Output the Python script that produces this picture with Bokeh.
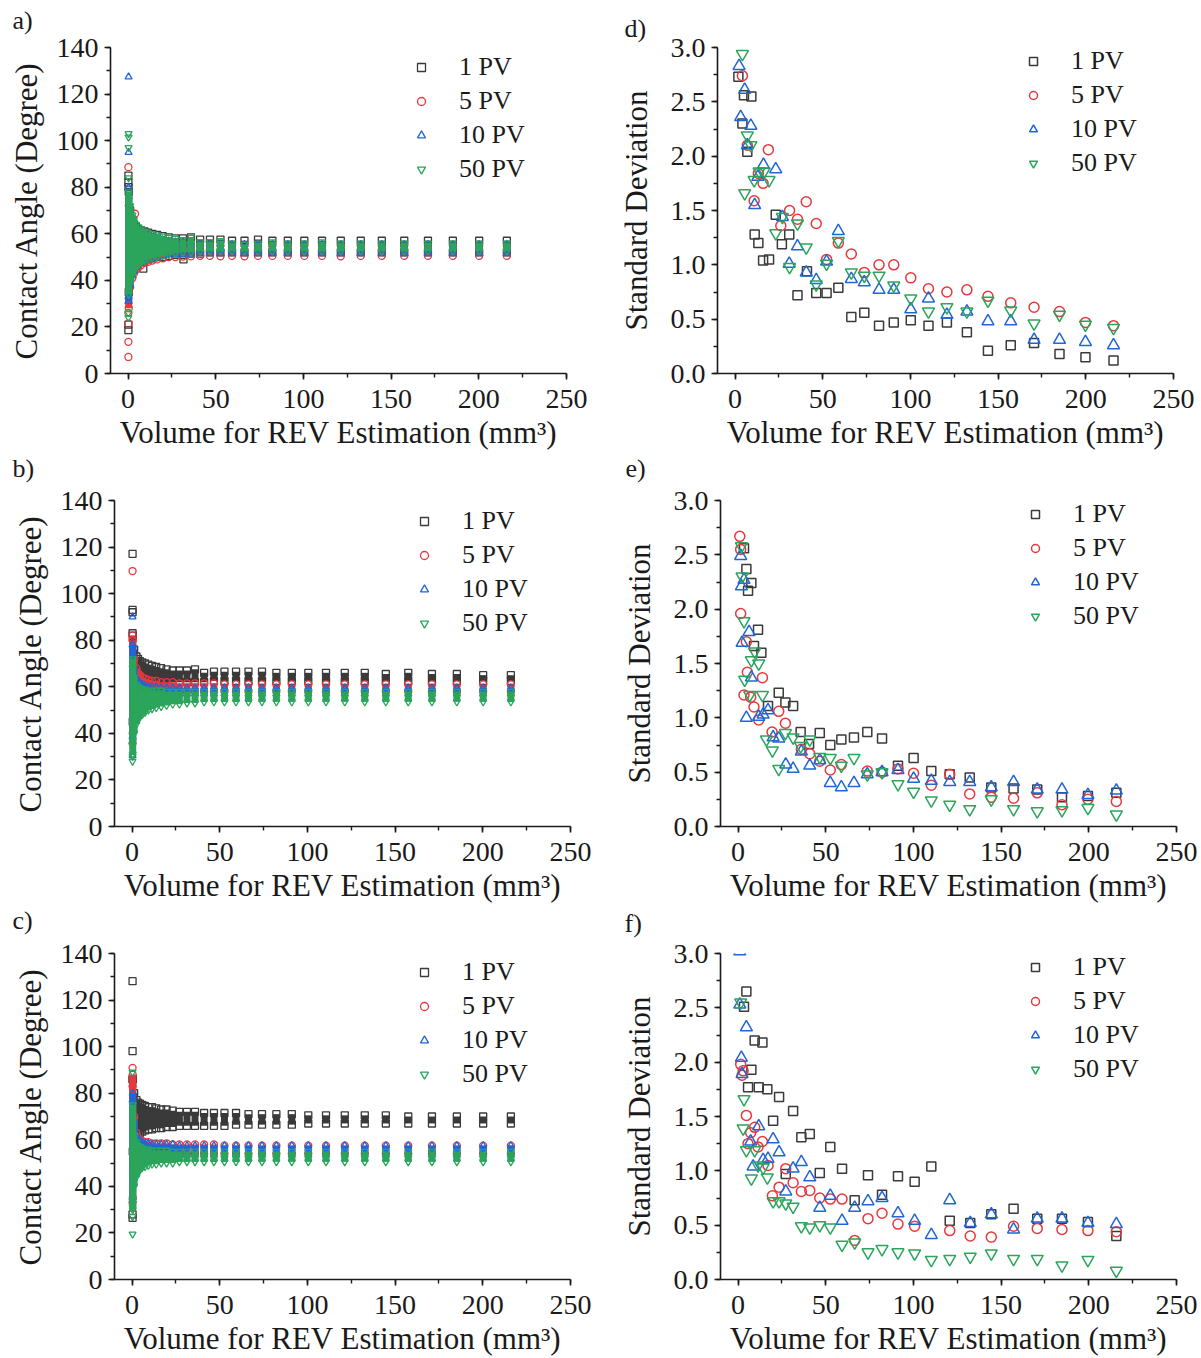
from bokeh.plotting import figure
from bokeh.layouts import column, row
from bokeh.models import (Range1d, SingleIntervalTicker, Legend, LegendItem,
                          PrintfTickFormatter)
from bokeh.embed import file_html
from bokeh.resources import INLINE

FONT = "Liberation Serif"
SERIES = ["1 PV", "5 PV", "10 PV", "50 PV"]
COLORS = ["#3a3a3a", "#e8383d", "#2166d6", "#2ba55b"]
MARKERS = ["square", "circle", "triangle", "inverted_triangle"]
X_TITLE = "Volume for REV Estimation (mm³)"

# ---------------- left column: contact angle envelopes per sub-volume ----------------
volumes = [0.4, 1.2, 2.5, 3.4, 4.5, 5.8, 7.4, 9.3, 11.4, 13.8, 16.6, 19.7, 23.2, 27.0,
           31.3, 35.9, 41.1, 46.7, 52.7, 59.3, 66.4, 74.1, 82.3, 91.1, 100.5, 110.6,
           121.3, 132.7, 144.7, 157.5, 171.0, 185.2, 200.2, 216.0]

# panel a
a_lo_1pv = [35, 41, 44, 45.5, 46.5, 47.5, 48, 48.5, 49, 49.5, 50, 50, 50.5, 51, 51, 51.5, 51.5,
            52, 52, 52, 52, 52, 52, 52, 52, 52, 52, 52, 52, 52, 52, 52, 52, 52]
a_hi_1pv = [78, 70, 66, 64, 63, 62, 61.5, 61, 60.5, 60, 59.5, 59, 58.5, 58, 58, 58.5, 57.5,
            57.5, 57.5, 57, 57, 57.5, 57, 57, 57, 57, 57, 57, 57, 57, 57, 57, 57, 57]
a_lo_5pv = [28, 37, 41, 43, 44.5, 45.5, 46.5, 47.5, 48, 48.5, 49, 49.5, 50, 50, 50.2, 50.3, 50.5,
            50.5, 50.3, 50.5, 50.3, 50.5, 50.5, 50.5, 50.5, 50.5, 50.3, 50.5, 50.5, 50.5, 50.5, 50.5, 50.5, 50.5]
a_hi_5pv = [72, 66, 62, 60, 59, 58, 57.5, 57, 56.5, 56, 55.5, 55.5, 55, 55, 55, 55, 55,
            55, 55, 55, 55, 55, 55, 55, 55, 55, 55, 55, 55, 55, 55, 55, 55, 55]
a_lo_10pv = [31, 38, 42, 44, 45.5, 46.5, 47.5, 48.5, 49, 49.5, 50, 50.5, 51, 51, 51.2, 51.3, 51.5,
             51.5, 51.5, 51.5, 51.5, 51.5, 51.5, 51.5, 51.5, 51.5, 51.5, 51.5, 51.5, 51.5, 51.5, 51.5, 51.5, 51.5]
a_hi_10pv = [76, 70, 66, 64, 62.5, 61.5, 60.5, 59.5, 59, 58.5, 58, 57.5, 57, 56.5, 56.5, 56, 55.5,
             55.5, 55.5, 55.5, 55.5, 55.5, 55.5, 55.5, 55.5, 55.5, 55.5, 55.5, 55.5, 55.5, 55.5, 55.5, 55.5, 55.5]
a_lo_50pv = [34, 39, 42, 44, 45.5, 46.5, 47.5, 48.5, 49, 49.5, 50, 50.5, 51, 51.5, 52, 52, 52.5,
             52.5, 52.5, 52.5, 52.5, 52.5, 52.5, 52.5, 52.5, 52.5, 52.5, 52.5, 52.5, 52.5, 52.5, 52.5, 52.5, 52.5]
a_hi_50pv = [78, 72, 68, 66, 64, 63, 62, 61, 60.5, 60, 59.5, 59, 58.5, 58, 57.5, 58.5, 56.5,
             56.5, 57, 56, 55.5, 56, 56.5, 56, 56, 56.5, 56, 56, 56, 56, 56, 56, 56, 56]
a_out_x_1pv = [0.2, 0.2, 0.3, 0.2, 0.2, 8.7, 31.6]
a_out_y_1pv = [85, 82, 80, 18.6, 21, 45, 49]
a_out_x_5pv = [0.2, 0.2, 0.2, 0.2, 4.0, 0.2]
a_out_y_5pv = [88.6, 13.6, 7.1, 21.4, 68.6, 26]
a_out_x_10pv = [0.3, 0.3, 0.3, 0.2, 0.2]
a_out_y_10pv = [127.4, 95, 80, 33, 31]
a_out_x_50pv = [0.3, 0.3, 0.3, 0.3, 0.2, 0.2]
a_out_y_50pv = [103, 101.5, 97, 84, 26, 24]

# panel b
b_lo_1pv = [45, 52, 56, 58, 59, 60, 60.5, 61, 61, 61.5, 61.5, 61.5, 62, 62, 62, 62, 62,
            62.5, 62.5, 62.5, 62.5, 62.5, 62.5, 62.5, 62.5, 62.5, 62.5, 62.5, 62.5, 62.5, 62.5, 62.5, 62.5, 62.5]
b_hi_1pv = [82, 76, 73, 72, 71, 70.5, 70, 69.5, 69, 68.5, 68, 67.5, 67, 67, 67, 67.5, 66,
            66.5, 66.5, 66.5, 66.5, 66.5, 66, 66, 66, 66, 66, 66, 65.5, 66, 65.5, 65.5, 65, 65]
b_lo_5pv = [40, 50, 54, 55, 56, 56.5, 57, 57, 57.5, 57.5, 57.5, 58, 58, 58, 58, 58, 58,
            58, 58, 58, 58, 58, 58, 58, 58, 58, 58, 58, 58, 58, 58, 58, 58, 58]
b_hi_5pv = [80, 72, 68, 66, 65, 64, 63.5, 63, 62.5, 62.5, 62, 62, 62, 61.5, 61.5, 61.5, 61.5,
            61.5, 61, 61, 61, 61, 61, 61, 61, 61, 61, 61, 61, 61, 61, 61, 61, 61]
b_lo_10pv = [38, 48, 52, 53.5, 54.5, 55, 55.5, 56, 56, 56.5, 56.5, 56.5, 57, 57, 57, 57, 57,
             57, 57, 57, 57, 57, 57, 57, 57, 57, 57, 57, 57, 57, 57, 57, 57, 57]
b_hi_10pv = [78, 68, 64, 62, 61.5, 61, 60.5, 60, 60, 60, 59.5, 59.5, 59.5, 59.5, 59.5, 59.5, 59.5,
             59.5, 59.5, 59.5, 59.5, 59.5, 59.5, 59.5, 59.5, 59.5, 59.5, 59.5, 59.5, 59.5, 59.5, 59.5, 59.5, 59.5]
b_lo_50pv = [31, 40, 44, 46, 47, 48, 49, 50, 50.5, 51, 51.5, 52, 52.5, 52.5, 53, 53, 53.5,
             53.5, 53.5, 53.5, 53.5, 53.5, 53.5, 53.5, 53.5, 53.5, 53.5, 53.5, 53.5, 53.5, 53.5, 53.5, 53.5, 53.5]
b_hi_50pv = [72, 64, 61, 60, 59.5, 59, 59, 58.5, 58.5, 58.5, 58.5, 58, 58, 58, 58, 58, 58,
             58, 58, 58, 58, 58, 58, 58, 58, 58, 58, 58, 58, 58, 58, 58, 58, 58]
b_out_x_1pv = [0.3, 0.3, 0.3, 0.3]
b_out_y_1pv = [117.1, 93, 92, 83]
b_out_x_5pv = [0.3, 0.3, 0.3, 0.3]
b_out_y_5pv = [109.7, 82, 80, 35.7]
b_out_x_10pv = [0.3, 0.3, 0.3, 0.3]
b_out_y_10pv = [90, 78, 38.6, 30.5]
b_out_x_50pv = [0.3, 0.3, 0.3, 0.3]
b_out_y_50pv = [28, 30, 35, 68]

# panel c
c_lo_1pv = [55, 60, 62, 62.5, 63, 63.5, 64, 64.5, 64.5, 65, 65, 65.5, 65.5, 66, 66, 66, 66,
            66, 66, 66.5, 66.5, 66.5, 66.5, 66.5, 67, 67, 67, 67, 67, 67, 67, 67, 67, 67]
c_hi_1pv = [86, 80, 77, 76, 75.5, 75, 74.5, 74, 74, 73.5, 73, 73, 72.5, 72, 72, 72, 71.5,
            71.5, 71.5, 71.5, 71, 71, 71, 71, 70.5, 70.5, 70.5, 70.5, 70.5, 70, 70, 70, 70, 70]
c_lo_5pv = [35, 45, 49, 51, 52, 52.5, 53, 53, 53.5, 53.5, 53.5, 54, 54, 54, 54, 54, 54,
            54, 54, 54, 54, 54, 54, 54, 54, 54, 54, 54, 54, 54, 54, 54, 54, 54]
c_hi_5pv = [88, 70, 63, 61, 60, 59.5, 59, 59, 58.5, 58.5, 58.5, 58.5, 58, 58, 58, 58, 58,
            58, 57.5, 57.5, 57.5, 57.5, 57.5, 57.5, 57.5, 57.5, 57.5, 57.5, 57.5, 57.5, 57.5, 57.5, 57.5, 57.5]
c_lo_10pv = [34, 45, 49, 50.5, 51.5, 52, 52.5, 52.5, 53, 53, 53, 53, 53.3, 53.3, 53.3, 53.5, 53.5,
             53.5, 53.5, 53.5, 53.5, 53.5, 53.5, 53.5, 53.5, 53.5, 53.5, 53.5, 53.5, 53.5, 53.5, 53.5, 53.5, 53.5]
c_hi_10pv = [80, 68, 62, 60.5, 59.5, 59, 58.5, 58.5, 58, 58, 58, 58, 58, 57.5, 57.5, 57.5, 57.5,
             57.5, 57.5, 57.5, 57.5, 57.5, 57.5, 57.5, 57.5, 57.5, 57.5, 57.5, 57.5, 57.5, 57.5, 57.5, 57.5, 57.5]
c_lo_50pv = [30, 40, 44, 46, 47, 48, 48.5, 49, 49.5, 49.5, 50, 50, 50, 50.5, 50.5, 50.5, 50.5,
             50.5, 50.5, 50.5, 50.5, 50.5, 50.5, 50.5, 50.5, 50.5, 50.5, 50.5, 50.5, 50.5, 50.5, 50.5, 50.5, 50.5]
c_hi_50pv = [75, 62, 59, 57.5, 57, 56.5, 56, 56, 55.5, 55.5, 55.5, 55.5, 55, 55, 55, 55, 55,
             55, 55, 55, 55, 55, 55, 55, 55, 55, 55, 55, 55, 55, 55, 55, 55, 55]
c_out_x_1pv = [0.3, 0.3, 0.3, 0.3, 0.3]
c_out_y_1pv = [128.1, 98.1, 86, 28, 26.5]
c_out_x_5pv = [0.3, 0.3, 0.3]
c_out_y_5pv = [90.9, 83, 33]
c_out_x_10pv = [0.3, 0.3]
c_out_y_10pv = [77, 35]
c_out_x_50pv = [0.3, 0.3, 0.3, 0.3]
c_out_y_50pv = [89, 19.5, 31, 27]

# ---------------- right column: standard deviation ----------------
d_x_1pv = [1.9, 4.2, 5.1, 7.0, 9.3, 11.2, 13.3, 16.0, 19.4, 23.2, 26.7, 30.9, 35.6, 41.0, 46.3, 52.2,
           58.9, 66.3, 73.7, 82.1, 90.5, 100.2, 110.3, 120.8, 132.2, 144.2, 157.2, 170.5, 185.0, 199.8, 215.8]
d_y_1pv = [2.73, 2.30, 2.56, 2.04, 2.55, 1.28, 1.20, 1.04, 1.05, 1.46, 1.19, 1.28, 0.72, 0.94, 0.74, 0.74,
           0.79, 0.52, 0.56, 0.44, 0.47, 0.49, 0.44, 0.47, 0.38, 0.21, 0.26, 0.28, 0.18, 0.15, 0.12]
d_x_5pv = [4.2, 7.0, 10.9, 13.3, 16.0, 19.0, 26.1, 31.1, 35.6, 40.6, 46.3, 52.2, 58.9, 66.3, 73.7, 82.1,
           90.5, 100.2, 110.3, 120.8, 132.2, 144.2, 157.2, 170.5, 185.0, 199.8, 215.8]
d_y_5pv = [2.74, 2.10, 1.59, 1.84, 1.75, 2.06, 1.36, 1.50, 1.42, 1.58, 1.38, 1.05, 1.20, 1.10, 0.93, 1.00,
           1.00, 0.88, 0.78, 0.75, 0.77, 0.71, 0.65, 0.61, 0.57, 0.47, 0.44]
d_x_10pv = [2.3, 3.2, 5.5, 7.0, 9.0, 11.2, 13.0, 16.2, 23.2, 27.0, 30.9, 35.6, 40.6, 46.3, 52.2, 58.9,
            66.3, 73.7, 82.1, 90.5, 100.2, 110.3, 120.8, 132.2, 144.2, 157.2, 170.5, 185.0, 199.8, 215.8]
d_y_10pv = [2.83, 2.36, 2.61, 2.10, 2.28, 1.55, 1.81, 1.92, 1.88, 1.44, 1.01, 1.17, 0.93, 0.86, 1.03, 1.31,
            0.87, 0.84, 0.77, 0.77, 0.59, 0.69, 0.54, 0.57, 0.48, 0.48, 0.31, 0.31, 0.29, 0.26]
d_x_50pv = [4.2, 5.5, 7.0, 9.0, 10.9, 13.7, 16.6, 19.4, 23.2, 27.0, 31.1, 35.6, 40.6, 46.3, 52.2, 58.9,
            66.3, 73.7, 82.1, 90.5, 100.2, 110.3, 120.8, 132.2, 144.2, 157.2, 170.5, 185.0, 199.8, 215.8]
d_y_50pv = [2.94, 1.66, 2.19, 2.10, 1.78, 1.86, 1.86, 1.78, 1.29, 1.44, 0.98, 1.38, 1.16, 0.82, 1.01, 1.22,
            0.93, 0.90, 0.90, 0.81, 0.69, 0.57, 0.61, 0.57, 0.67, 0.58, 0.46, 0.54, 0.45, 0.42]

e_x_1pv = [3.4, 4.75, 5.7, 7.6, 9.1, 11.4, 13.3, 17.1, 23.2, 27.0, 31.4, 35.7, 40.5, 46.6, 52.6, 58.9,
           66.1, 73.7, 82.1, 91.2, 100.1, 110.2, 120.7, 132.1, 144.4, 157.1, 170.6, 184.7, 199.5, 215.7]
e_y_1pv = [2.56, 2.37, 2.17, 2.24, 1.66, 1.81, 1.60, 1.11, 1.23, 1.14, 1.11, 0.87, 0.76, 0.86, 0.75, 0.80,
           0.82, 0.87, 0.81, 0.56, 0.63, 0.51, 0.48, 0.45, 0.36, 0.35, 0.34, 0.27, 0.28, 0.31]
e_x_5pv = [1.0, 1.5, 1.5, 3.4, 4.75, 5.3, 7.2, 9.1, 11.8, 13.9, 19.4, 23.2, 27.0, 36.1, 40.9, 46.6,
           52.6, 58.9, 73.7, 82.1, 91.2, 100.1, 110.2, 120.7, 132.1, 144.4, 157.1, 170.6, 184.7, 199.5, 215.7]
e_y_5pv = [2.67, 2.55, 1.96, 1.21, 1.70, 1.42, 1.19, 1.10, 0.98, 1.37, 0.87, 1.06, 0.95, 0.71, 0.67, 0.60,
           0.52, 0.57, 0.51, 0.50, 0.53, 0.49, 0.38, 0.48, 0.30, 0.27, 0.26, 0.31, 0.20, 0.25, 0.23]
e_x_10pv = [1.5, 1.9, 2.3, 3.4, 4.75, 6.3, 7.6, 11.8, 14.3, 17.1, 20.0, 23.2, 27.2, 31.4, 36.1, 40.9,
            46.6, 52.6, 58.9, 66.1, 73.7, 82.1, 91.2, 100.1, 110.2, 120.7, 132.1, 144.4, 157.1, 170.6,
            184.7, 199.5, 215.7]
e_y_10pv = [2.49, 2.21, 1.69, 2.27, 1.00, 1.79, 1.37, 1.01, 1.03, 1.07, 0.82, 0.81, 0.57, 0.53, 0.69, 0.56,
            0.61, 0.40, 0.36, 0.40, 0.48, 0.50, 0.52, 0.44, 0.42, 0.41, 0.41, 0.36, 0.41, 0.34,
            0.34, 0.29, 0.33]
e_x_50pv = [1.9, 2.3, 3.4, 3.8, 6.7, 7.6, 9.5, 11.8, 13.9, 16.2, 19.6, 23.2, 27.0, 31.4, 35.7, 40.9,
            46.6, 52.6, 58.9, 66.1, 73.7, 82.1, 91.2, 100.1, 110.2, 120.7, 132.1, 144.4, 157.1, 170.6,
            184.7, 199.5, 215.7]
e_y_50pv = [2.58, 2.30, 1.89, 1.35, 1.21, 1.53, 1.61, 1.50, 1.21, 0.80, 0.70, 0.53, 0.86, 0.82, 0.74, 0.80,
            0.64, 0.63, 0.56, 0.63, 0.48, 0.50, 0.39, 0.32, 0.24, 0.20, 0.16, 0.25, 0.16, 0.14,
            0.15, 0.17, 0.11]

f_x_1pv = [3.4, 4.75, 5.7, 7.6, 9.5, 11.8, 13.9, 16.7, 20.0, 23.4, 27.2, 31.4, 36.1, 40.9, 46.6, 52.6,
           59.3, 66.5, 74.1, 82.1, 91.2, 100.7, 110.2, 120.7, 132.4, 144.4, 157.1, 170.6, 184.7, 199.5, 215.7]
f_y_1pv = [2.51, 2.65, 1.77, 1.93, 2.20, 1.77, 2.18, 1.75, 1.46, 1.68, 0.97, 1.55, 1.31, 1.34, 0.98, 1.22,
           1.02, 0.73, 0.96, 0.78, 0.95, 0.90, 1.04, 0.54, 0.52, 0.60, 0.65, 0.56, 0.56, 0.53, 0.40]
f_x_5pv = [1.5, 2.3, 2.9, 4.75, 5.7, 7.2, 9.5, 11.4, 13.9, 17.1, 19.6, 23.4, 27.2, 31.4, 36.1, 40.9,
           46.6, 52.6, 59.3, 66.5, 74.1, 82.1, 91.2, 100.7, 120.7, 132.4, 144.4, 157.1, 170.6, 184.7,
           199.5, 215.7]
f_y_5pv = [1.98, 1.88, 1.92, 1.51, 1.25, 1.35, 1.40, 1.22, 1.27, 1.05, 0.77, 0.85, 1.02, 0.89, 0.81, 0.82,
           0.75, 0.74, 0.74, 0.36, 0.56, 0.61, 0.51, 0.49, 0.45, 0.40, 0.39, 0.49, 0.47, 0.46,
           0.45, 0.44]
f_x_10pv = [1.0, 1.0, 1.9, 2.3, 4.75, 7.2, 8.6, 11.8, 14.3, 17.1, 20.0, 23.4, 27.2, 31.4, 36.1, 40.9,
            46.6, 52.6, 59.3, 66.5, 74.1, 82.1, 91.2, 100.7, 110.2, 120.7, 132.4, 144.4, 157.1, 170.6,
            184.7, 199.5, 215.7]
f_y_10pv = [3.02, 2.53, 2.04, 1.89, 2.32, 1.27, 1.04, 1.41, 1.10, 1.11, 1.29, 1.17, 0.81, 1.02, 1.08, 0.94,
            0.66, 0.77, 0.54, 0.66, 0.72, 0.75, 0.61, 0.54, 0.41, 0.73, 0.52, 0.60, 0.46, 0.56,
            0.56, 0.52, 0.51]
f_x_50pv = [1.5, 2.9, 3.4, 4.75, 7.6, 9.5, 11.4, 14.3, 16.7, 20.0, 23.4, 27.2, 31.4, 36.1, 40.9, 46.6,
            52.6, 59.3, 66.5, 74.1, 82.1, 91.2, 100.7, 110.2, 120.7, 132.4, 144.4, 157.1, 170.6, 184.7,
            199.5, 215.7]
f_y_50pv = [2.55, 1.39, 1.66, 1.19, 0.93, 1.19, 1.05, 1.03, 0.94, 0.72, 0.72, 0.70, 0.67, 0.49, 0.48, 0.50,
            0.48, 0.32, 0.34, 0.25, 0.28, 0.25, 0.24, 0.18, 0.19, 0.21, 0.24, 0.19, 0.19, 0.13,
            0.18, 0.08]

# ---------------- layout constants ----------------
FRAME_W = 456
FRAME_H = 326


def style_axes(p, y_interval, y_fmt=None):
    p.xaxis.ticker = SingleIntervalTicker(interval=50, num_minor_ticks=2)
    p.yaxis.ticker = SingleIntervalTicker(interval=y_interval, num_minor_ticks=2)
    if y_fmt:
        p.yaxis.formatter = PrintfTickFormatter(format=y_fmt)
    for ax in (p.xaxis[0], p.yaxis[0]):
        ax.axis_line_width = 1.6
        ax.axis_line_color = "#1a1a1a"
        ax.major_tick_line_width = 1.6
        ax.minor_tick_line_width = 1.4
        ax.major_tick_line_color = "#1a1a1a"
        ax.minor_tick_line_color = "#1a1a1a"
        ax.major_tick_in = 0
        ax.major_tick_out = 6
        ax.minor_tick_in = 0
        ax.minor_tick_out = 4
        ax.major_label_text_font = FONT
        ax.major_label_text_font_size = "28px"
        ax.major_label_text_color = "#1a1a1a"
        ax.axis_label_text_font = FONT
        ax.axis_label_text_font_size = "31px"
        ax.axis_label_text_font_style = "normal"
        ax.axis_label_text_color = "#1a1a1a"
    p.xaxis.major_label_standoff = 10
    p.xaxis.axis_label_standoff = 4
    p.yaxis.major_label_standoff = 6
    p.xaxis.axis_label = X_TITLE
    p.xgrid.visible = False
    p.ygrid.visible = False
    p.outline_line_color = None


def make_fig(width, left, top, bottom, ymax, tag, tag_offset, tag_standoff, pull_up):
    # the top border is made taller than needed so the panel tag fits, and the figure is
    # pulled up by the same amount so that every frame keeps its place on the page
    p = figure(width=width, height=top + FRAME_H + bottom, min_border_left=left,
               min_border_right=width - left - FRAME_W, min_border_top=top,
               min_border_bottom=bottom, x_range=Range1d(-10, 250),
               y_range=Range1d(0, ymax), toolbar_location=None,
               output_backend="svg", background_fill_color="white",
               border_fill_alpha=0, title=tag, margin=(-pull_up, 0, 0, 0))
    p.title.align = "left"
    p.title.vertical_align = "bottom"
    p.title.offset = tag_offset
    p.title.standoff = tag_standoff
    p.title.text_font = FONT
    p.title.text_font_size = "26px"
    p.title.text_font_style = "normal"
    p.title.text_color = "#1a1a1a"
    return p


def add_legend(p, renderers, vx, vy):
    items = [LegendItem(label=s, renderers=[r]) for s, r in zip(SERIES, renderers)]
    leg = Legend(items=items, location=(vx, vy), padding=5, margin=0, spacing=4,
                 glyph_width=20, glyph_height=30, label_height=30, label_standoff=28,
                 label_text_font=FONT, label_text_font_size="26px",
                 label_text_color="#1a1a1a", border_line_alpha=0,
                 background_fill_alpha=0)
    p.add_layout(leg, "center")


def left_panel(left, top, bottom, envs, outs, leg_pos, tag, tag_offset, tag_standoff, pull_up):
    p = make_fig(600, left, top, bottom, 140, tag, tag_offset, tag_standoff, pull_up)
    rends = []
    for i in range(4):
        lo, hi = envs[i]
        ox, oy = outs[i]
        c = COLORS[i]
        p.segment(x0=volumes, y0=lo, x1=volumes, y1=hi, line_color=c, line_width=7)
        p.scatter(x=volumes, y=hi, marker=MARKERS[i], size=7, fill_color=None,
                  line_color=c, line_width=1.3)
        p.scatter(x=volumes, y=lo, marker=MARKERS[i], size=7, fill_color=None,
                  line_color=c, line_width=1.3)
        r = p.scatter(x=ox, y=oy, marker=MARKERS[i], size=7, fill_color=None,
                      line_color=c, line_width=1.3)
        rends.append(r)
    style_axes(p, 20)
    p.yaxis.axis_label = "Contact Angle (Degree)"
    p.yaxis.axis_label_standoff = 10
    add_legend(p, rends, *leg_pos)
    return p


def right_panel(width, left, top, bottom, data, leg_pos, tag, tag_offset, tag_standoff, pull_up):
    p = make_fig(width, left, top, bottom, 3.0, tag, tag_offset, tag_standoff, pull_up)
    rends = []
    for i in range(4):
        xs, ys = data[i]
        size = 12 if "triangle" in MARKERS[i] else (9 if MARKERS[i] == "square" else 10)
        r = p.scatter(x=xs, y=ys, marker=MARKERS[i], size=size, fill_color=None,
                      line_color=COLORS[i], line_width=1.5)
        rends.append(r)
    style_axes(p, 0.5, "%.1f")
    p.yaxis.axis_label = "Standard Deviation"
    p.yaxis.axis_label_standoff = 14
    add_legend(p, rends, *leg_pos)
    return p


pa = left_panel(110, 57, 80,
                [(a_lo_1pv, a_hi_1pv), (a_lo_5pv, a_hi_5pv), (a_lo_10pv, a_hi_10pv), (a_lo_50pv, a_hi_50pv)],
                [(a_out_x_1pv, a_out_y_1pv), (a_out_x_5pv, a_out_y_5pv),
                 (a_out_x_10pv, a_out_y_10pv), (a_out_x_50pv, a_out_y_50pv)],
                (296, 184), "a)", -98, 26, 10)
pd = right_panel(600, 117, 57, 80,
                 [(d_x_1pv, d_y_1pv), (d_x_5pv, d_y_5pv), (d_x_10pv, d_y_10pv), (d_x_50pv, d_y_50pv)],
                 (301, 190), "d)", -93, 10, 10)
pb = left_panel(114, 67, 80,
                [(b_lo_1pv, b_hi_1pv), (b_lo_5pv, b_hi_5pv), (b_lo_10pv, b_hi_10pv), (b_lo_50pv, b_hi_50pv)],
                [(b_out_x_1pv, b_out_y_1pv), (b_out_x_5pv, b_out_y_5pv),
                 (b_out_x_10pv, b_out_y_10pv), (b_out_x_50pv, b_out_y_50pv)],
                (295, 183), "b)", -102, 36, 20)
pe = right_panel(601, 120, 67, 80,
                 [(e_x_1pv, e_y_1pv), (e_x_5pv, e_y_5pv), (e_x_10pv, e_y_10pv), (e_x_50pv, e_y_50pv)],
                 (300, 190), "e)", -95, 36, 20)
pc = left_panel(114, 69, 79,
                [(c_lo_1pv, c_hi_1pv), (c_lo_5pv, c_hi_5pv), (c_lo_10pv, c_hi_10pv), (c_lo_50pv, c_hi_50pv)],
                [(c_out_x_1pv, c_out_y_1pv), (c_out_x_5pv, c_out_y_5pv),
                 (c_out_x_10pv, c_out_y_10pv), (c_out_x_50pv, c_out_y_50pv)],
                (295, 185), "c)", -102, 38, 22)
pf = right_panel(601, 120, 69, 79,
                 [(f_x_1pv, f_y_1pv), (f_x_5pv, f_y_5pv), (f_x_10pv, f_y_10pv), (f_x_50pv, f_y_50pv)],
                 (300, 190), "f)", -96, 32, 22)

layout = column(row(pa, pd), row(pb, pe), row(pc, pf))
open("out.html", "w").write(file_html(layout, INLINE))
